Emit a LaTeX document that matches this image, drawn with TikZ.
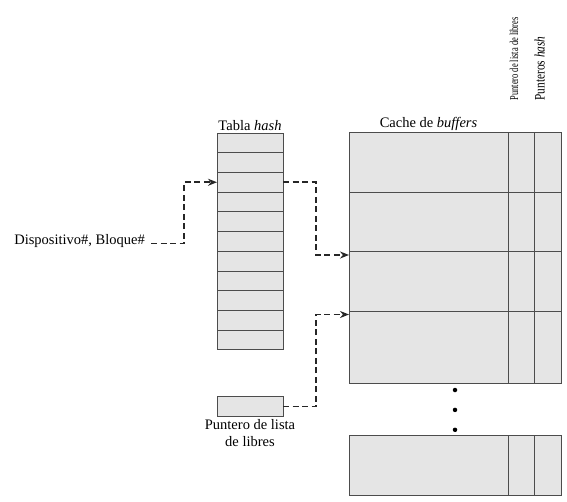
\documentclass[tikz,border=0pt]{standalone}
\usepackage{fontspec}
\setmainfont{Liberation Serif}
\usetikzlibrary{arrows.meta,positioning}

\begin{document}
\begin{tikzpicture}[
  x=1pt, y=-1pt,
  font=\fontsize{14.5}{17}\selectfont,
  cell/.style={draw=black!70, fill=black!10, line width=0.7pt, inner sep=0pt, outer sep=0pt},
  hrow/.style={cell, minimum width=66pt, minimum height=19.7pt, anchor=north west},
  lbl/.style={inner sep=1pt, align=center},
  vlbl/.style={rotate=90, inner sep=0pt, anchor=base west},
  dot/.style={circle, fill=black, inner sep=0pt, minimum size=4.5pt},
  ptr/.style={dashed, dash pattern=on 6pt off 3.5pt, line width=1.7pt, draw=black!85,
    -{Stealth[length=9pt,width=7pt]}}
]
\useasboundingbox (0,0) rectangle (567,501);

% tabla hash
\foreach \i in {1,...,11}
  \node[hrow] (h\i) at (217,{133+(\i-1)*19.7}) {};
\node[lbl, above=1pt of h1] (tabla) {Tabla \textit{hash}};

% cache de buffers
\foreach \n/\top/\h in {1/132.5/59.5, 2/192/59.5, 3/251.5/59.5, 4/311/72, 5/435.5/60} {
  \node[cell, minimum width=159pt, minimum height=\h pt, anchor=north west] (c\n) at (349,\top) {};
  \node[cell, minimum width=26pt, minimum height=\h pt, right=0pt of c\n] (p\n) {};
  \node[cell, minimum width=27pt, minimum height=\h pt, right=0pt of p\n] (q\n) {};
}
\node[lbl, above=1pt of c1] (cachetxt) {Cache de \textit{buffers}};
\node[vlbl, font=\fontsize{12}{14}\selectfont] (ptrlib) at ([xshift=-3pt,yshift=32pt]p1.north) {\scalebox{0.7}[1]{Puntero de lista de libres}};
\node[vlbl] (ptrhash) at ([xshift=-3pt,yshift=32pt]q1.north) {\scalebox{0.78}[1]{Punteros \textit{hash}}};

% puntos
\node[dot] (d1) at (455,390) {};
\node[dot, below=15pt of d1] (d2) {};
\node[dot, below=15pt of d2] (d3) {};

% lista de libres
\node[hrow, minimum height=20pt] (libre) at (217,396.5) {};
\node[lbl, below=2pt of libre, font=\fontsize{14.5}{16.5}\selectfont] (libtxt) {Puntero de lista\\de libres};

% dispositivo
\node[lbl, anchor=east] (dev) at (146,241) {Dispositivo\#, Bloque\#};

\draw[ptr] ([yshift=-2.5pt]dev.east) ++(5pt,0) -- ++(33pt,0) |- (h3.west);
\draw[ptr] (h3.east) -- ++(33pt,0) |- ([yshift=-3.5pt]c3.north west);
\draw[ptr] (libre.east) -- ++(33pt,0) |- ([yshift=-3.5pt]c4.north west);
\end{tikzpicture}
\end{document}
